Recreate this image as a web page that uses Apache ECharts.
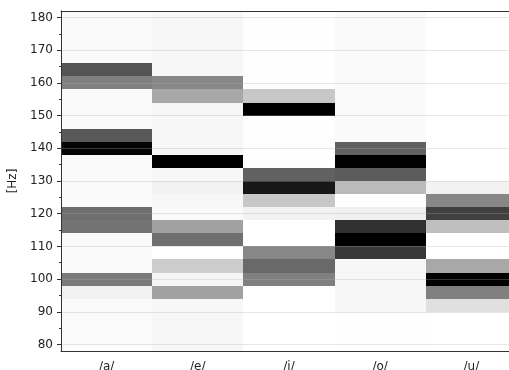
<!DOCTYPE html>
<html>
<head>
<meta charset="utf-8">
<script src="https://cdn.jsdelivr.net/npm/echarts@6/dist/echarts.min.js"></script>
<style>
  html, body { margin: 0; padding: 0; background: #fff; }
  #chart { width: 509px; height: 370px; }
</style>
</head>
<body>
<div id="chart"></div>
<script>
// vowel columns, 4 Hz pitch bins (centres, low -> high)
const vowels = ['/a/', '/e/', '/i/', '/o/', '/u/'];
const binCenters = [80, 84, 88, 92, 96, 100, 104, 108, 112, 116, 120, 124, 128,
                    132, 136, 140, 144, 148, 152, 156, 160, 164, 168, 172, 176, 180];
const binWidth = 4;
const yTicks = [80, 90, 100, 110, 120, 130, 140, 150, 160, 170, 180];

// darkness per bin (0 = white, 1 = black)
const valA = [0.01, 0.015, 0.02, 0.02, 0.05, 0.52, 0.02, 0.02, 0.02, 0.55, 0.57, 0.02, 0.02,
              0.02, 0.02, 0.98, 0.65, 0.02, 0.02, 0.02, 0.5, 0.67, 0.02, 0.02, 0.02, 0.02];
const valE = [0.03, 0.03, 0.03, 0.03, 0.37, 0.04, 0.2, 0.0, 0.56, 0.37, 0.02, 0.03, 0.05,
              0.03, 1.0, 0.03, 0.03, 0.03, 0.03, 0.34, 0.47, 0.03, 0.03, 0.03, 0.03, 0.03];
const valI = [0.0, 0.0, 0.0, 0.0, 0.0, 0.5, 0.59, 0.47, 0.0, 0.0, 0.05, 0.22, 0.91,
              0.62, 0.005, 0.005, 0.005, 0.005, 1.0, 0.22, 0.005, 0.005, 0.005, 0.005, 0.005, 0.005];
const valO = [0.005, 0.005, 0.005, 0.03, 0.03, 0.03, 0.03, 0.78, 1.0, 0.81, 0.06, 0.0, 0.27,
              0.64, 1.0, 0.62, 0.02, 0.02, 0.02, 0.02, 0.02, 0.02, 0.02, 0.02, 0.02, 0.02];
const valU = [0.0, 0.0, 0.0, 0.12, 0.5, 1.0, 0.34, 0.0, 0.0, 0.25, 0.75, 0.47, 0.05,
              0.0, 0.0, 0.0, 0.0, 0.0, 0.0, 0.0, 0.0, 0.0, 0.0, 0.0, 0.0, 0.0];

const columns = [valA, valE, valI, valO, valU];
const cells = [];
columns.forEach((col, xi) => {
  col.forEach((v, bi) => cells.push([xi, binCenters[bi], v]));
});

const font = 'DejaVu Sans';
const chart = echarts.init(document.getElementById('chart'));

chart.setOption({
  animation: false,
  backgroundColor: '#fff',
  grid: {left: 61, right: -8, top: 11, bottom: 19, containLabel: false, outerBoundsMode: 'none'},
  visualMap: {
    show: false,
    type: 'continuous',
    dimension: 2,
    min: 0,
    max: 1,
    inRange: {color: ['#ffffff', '#000000']}
  },
  xAxis: [{
    type: 'category',
    data: vowels,
    z: 5,
    axisLine: {lineStyle: {color: '#333', width: 1}},
    axisTick: {show: false},
    axisLabel: {fontFamily: font, fontSize: 12, color: '#222', margin: 10},
    splitLine: {show: false}
  }, {
    type: 'category',
    data: vowels,
    position: 'top',
    z: 5,
    axisLine: {lineStyle: {color: '#333', width: 1}},
    axisTick: {show: false},
    axisLabel: {show: false}
  }],
  yAxis: {
    type: 'value',
    min: 78,
    max: 182,
    splitNumber: 10,
    minInterval: 10,
    maxInterval: 10,
    z: 5,
    name: '[Hz]',
    nameLocation: 'middle',
    nameGap: 42,
    nameRotate: 90,
    nameTextStyle: {fontFamily: font, fontSize: 12, color: '#222'},
    axisLine: {show: true, lineStyle: {color: '#333', width: 1}},
    axisTick: {show: true, length: 4, lineStyle: {color: '#333'}, customValues: yTicks},
    minorTick: {show: true, splitNumber: 2, length: 2, lineStyle: {color: '#333'}},
    axisLabel: {fontFamily: font, fontSize: 12, color: '#222', margin: 8, customValues: yTicks},
    splitLine: {show: true, lineStyle: {color: 'rgba(176,176,176,0.3)', width: 1}}
  },
  series: [{
    type: 'custom',
    clip: true,
    encode: {x: 0, y: 1},
    data: cells,
    renderItem(params, api) {
      const xi = api.value(0);
      const c = api.value(1);
      const p1 = api.coord([xi, c + binWidth / 2]);
      const p2 = api.coord([xi, c - binWidth / 2]);
      const w = api.size([1, 0])[0];
      const x0 = Math.round(p1[0] - w / 2);
      const x1 = Math.round(p1[0] + w / 2);
      const y0 = Math.round(p1[1]);
      const y1 = Math.round(p2[1]);
      return {
        type: 'rect',
        shape: {x: x0, y: y0, width: x1 - x0, height: y1 - y0},
        style: {fill: api.visual('color')}
      };
    }
  }]
});
</script>
</body>
</html>
